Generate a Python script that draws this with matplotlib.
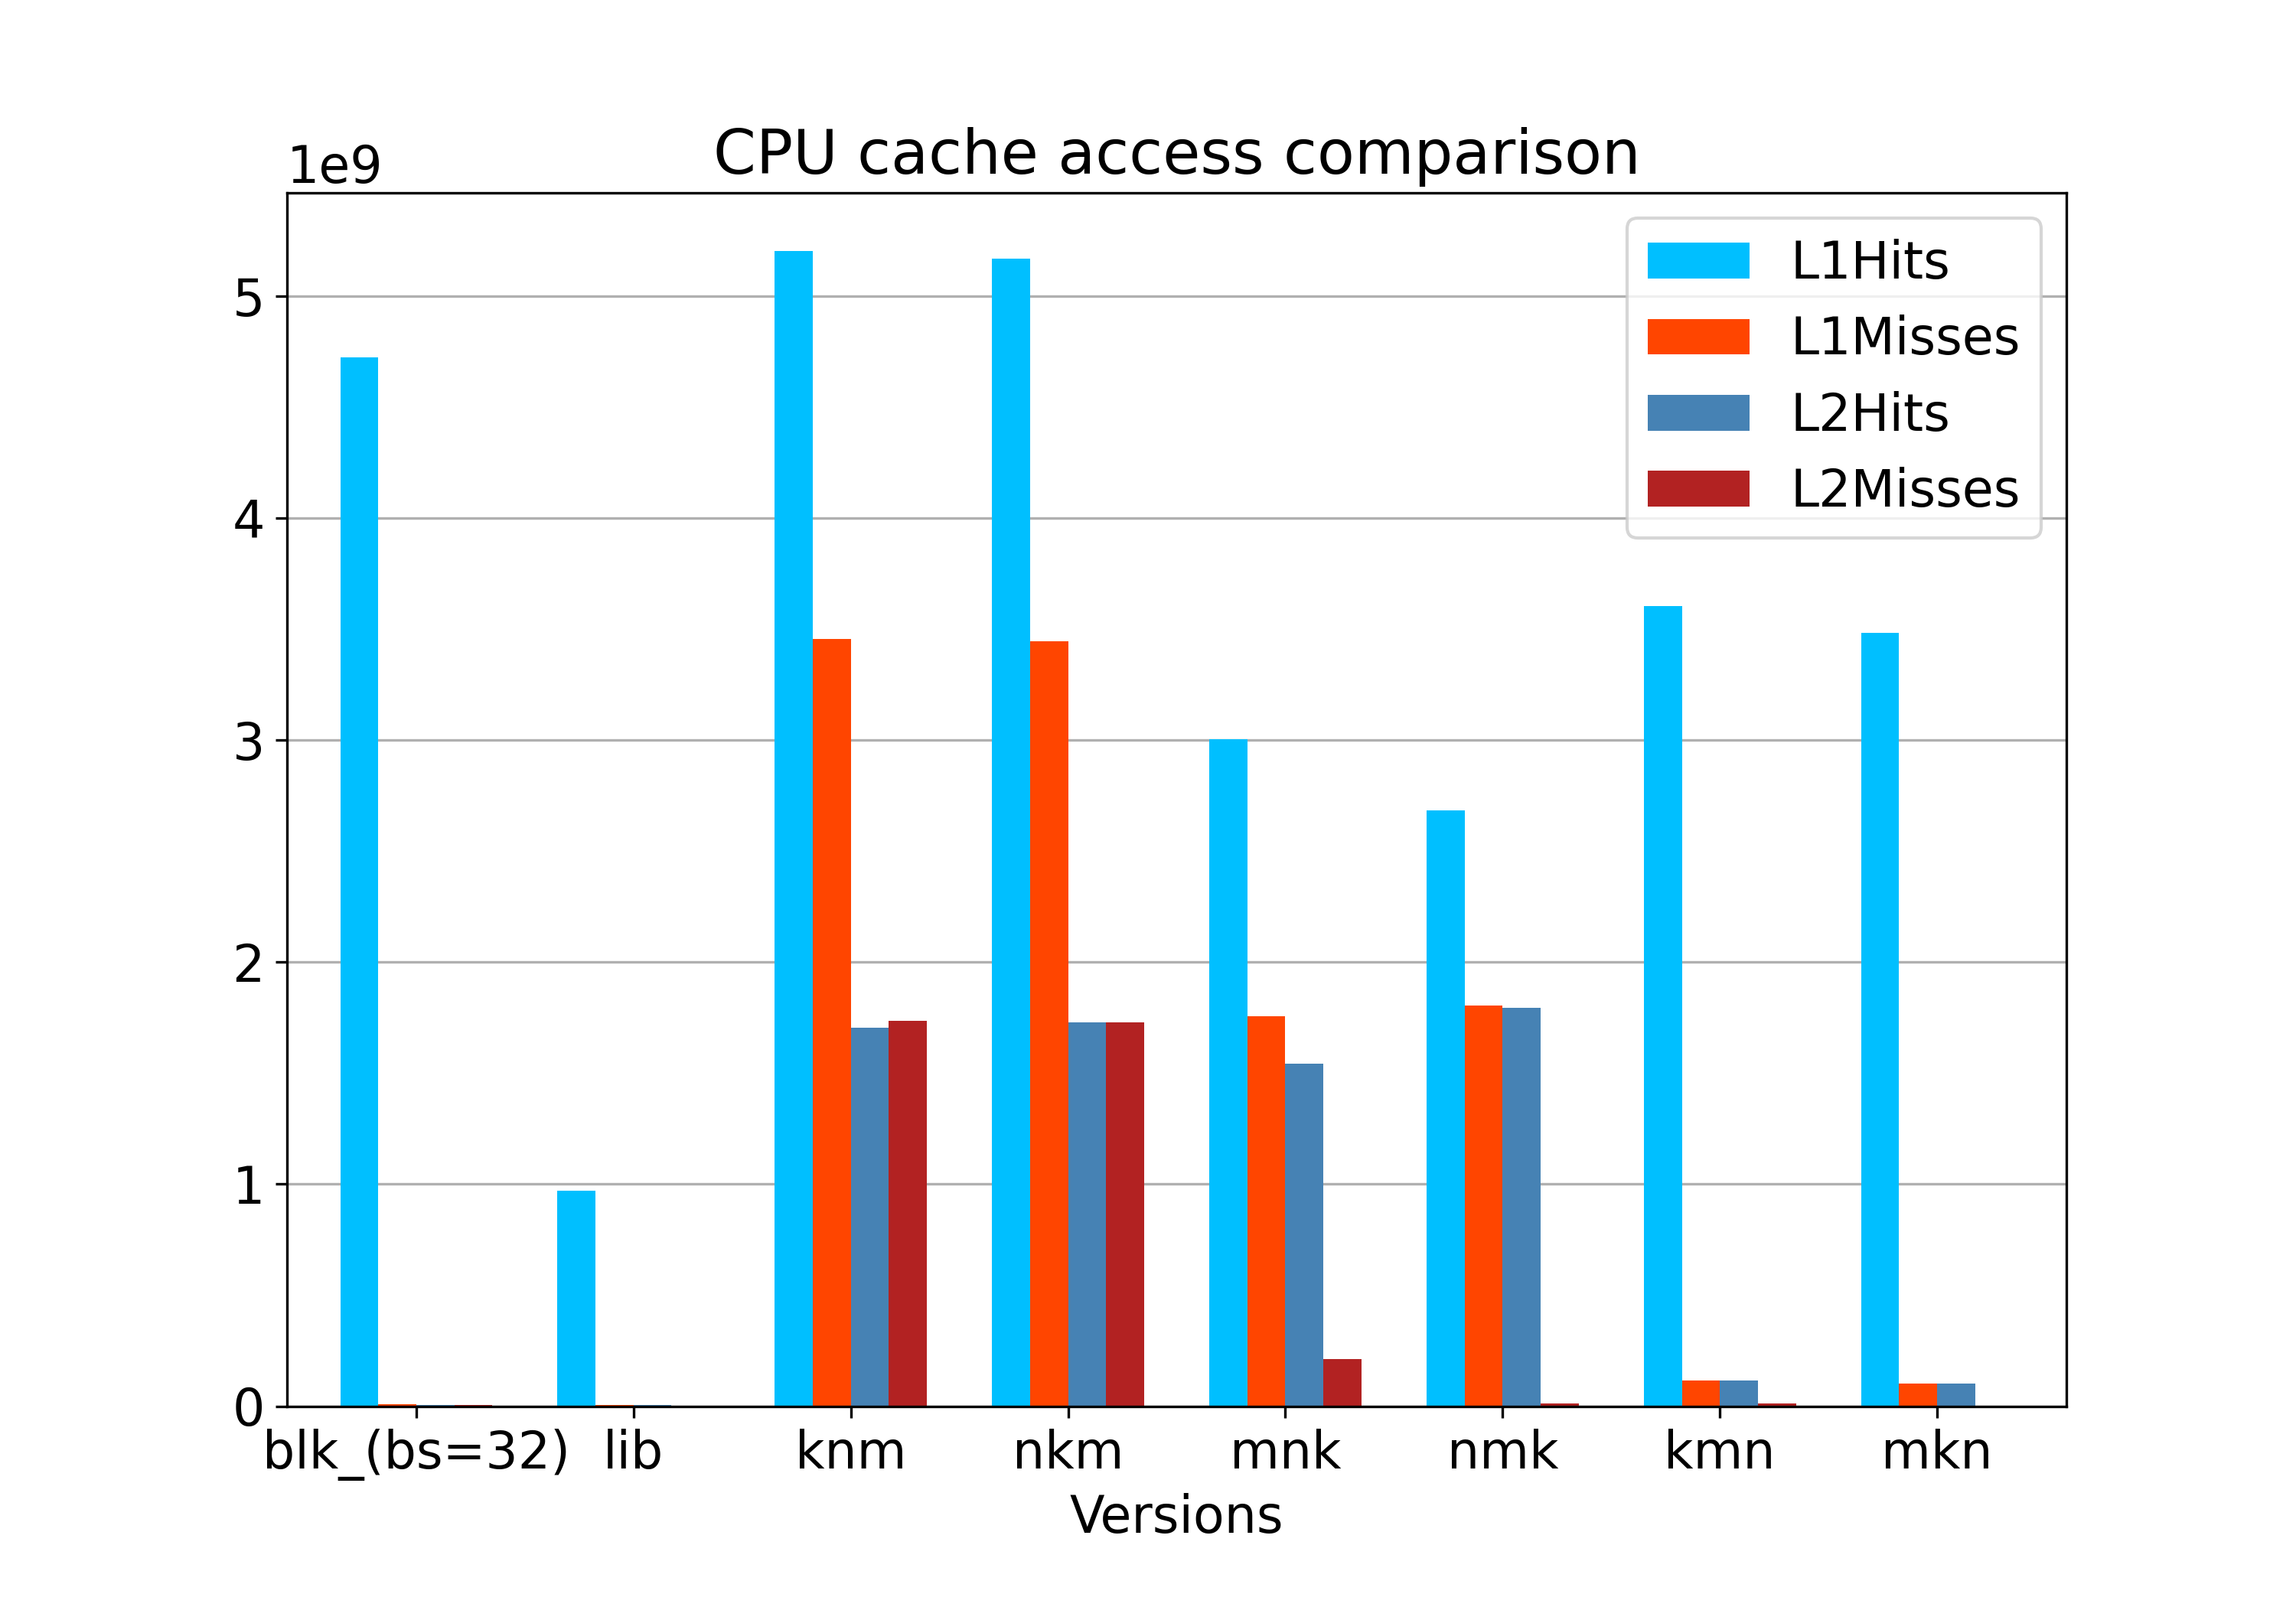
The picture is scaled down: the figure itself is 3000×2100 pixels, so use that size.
import numpy as np
import matplotlib
matplotlib.use("Agg")
from matplotlib import pyplot as plt

plt.rcParams['font.size'] = 16

versions = ["blk_(bs=32)", "lib", "knm", "nkm", "mnk", "nmk", "kmn", "mkn"]

# values in units of 1e9
l1_hits = [4.724, 0.970, 5.204, 5.167, 3.004, 2.684, 3.604, 3.484]
l1_misses = [0.008, 0.0045, 3.456, 3.446, 1.756, 1.804, 0.115, 0.101]
l2_hits = [0.0035, 0.0045, 1.704, 1.729, 1.542, 1.794, 0.115, 0.101]
l2_misses = [0.0045, 0.0, 1.736, 1.729, 0.211, 0.011, 0.011, 0.0]

series = [("L1Hits", l1_hits, "deepskyblue"),
          ("L1Misses", l1_misses, "orangered"),
          ("L2Hits", l2_hits, "steelblue"),
          ("L2Misses", l2_misses, "firebrick")]

x = np.arange(len(versions))
width = 0.175

fig, ax = plt.subplots(figsize=(10, 7), dpi=300)
fig.subplots_adjust(left=0.125, right=0.9, bottom=0.125, top=0.88)
ax.set_axisbelow(True)
for i, (name, vals, col) in enumerate(series):
    ax.bar(x + (i - 1.5) * width, np.array(vals) * 1e9, width, label=name, color=col)

ax.set_xticks(x)
ax.set_xticklabels(versions)
ax.set_xlim(-0.595, 7.595)
ax.yaxis.grid(True)
ax.set_xlabel("Versions")
ax.set_title("CPU cache access comparison")
ax.legend(loc="upper right")

fig.savefig("out.png", dpi=300)
